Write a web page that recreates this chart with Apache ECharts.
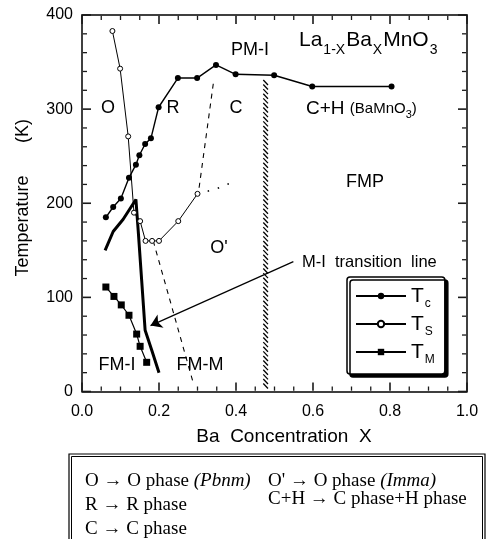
<!DOCTYPE html>
<html><head><meta charset="utf-8">
<script src="https://cdn.jsdelivr.net/npm/echarts@6/dist/echarts.min.js"></script>
<style>html,body{margin:0;padding:0;background:#fff}#c{width:487px;height:539px}</style>
</head><body><div id="c"></div>
<script>
// ---- data ----
const xTicks = [0.0, 0.2, 0.4, 0.6, 0.8, 1.0];
const yTicks = [0, 100, 200, 300, 400];
const xMinorStep = 0.05;
const yMinorStep = 20;
const tcData = [[0.062,185],[0.081,196],[0.101,205],[0.122,227],[0.140,241],[0.149,251],[0.164,263],[0.179,269],[0.199,302],[0.249,333],[0.299,333],[0.348,347],[0.399,337],[0.499,336],[0.598,324],[0.804,324]];
const tsData = [[0.079,383],[0.099,343],[0.120,271],[0.135,190],[0.151,181],[0.165,160],[0.182,160],[0.200,160],[0.250,181],[0.300,210]];
const tsExt = [[0.300,210],[0.347,215],[0.383,221]];
const tmData = [[0.062,111],[0.083,101],[0.102,92],[0.122,81],[0.142,61],[0.151,48],[0.168,31]];
const miLine = [[0.060,150],[0.081,170],[0.107,183],[0.140,204],[0.146,171],[0.155,118],[0.164,65],[0.181,44],[0.200,20]];
const dash1 = [[0.341,327],[0.302,210]];
const dash2 = [[0.185,160],[0.289,9]];
const arrowLine = [[0.549,138],[0.178,70]];
const hatchBand = [0.467, 0.487, 0, 331];
const seriesNames = ['Tc','Ts','TM'];
const subs = {Tc:'c', Ts:'S', TM:'M'};

const SANS = '"Liberation Sans", Arial, sans-serif';
const SERIF = '"Liberation Serif", "Times New Roman", serif';

const xMin = xTicks[0], xMax = xTicks[xTicks.length-1];
const yMin = yTicks[0], yMax = yTicks[yTicks.length-1];

// tick list: [value, axis (0 = x, 1 = y), major?]
const tickItems = [];
for (let i = 0; i <= Math.round((xMax-xMin)/xMinorStep); i++) {
  const v = +(xMin + i*xMinorStep).toFixed(4);
  tickItems.push([v, 0, xTicks.some(t => Math.abs(t - v) < 1e-6) ? 1 : 0]);
}
for (let i = 0; i <= Math.round((yMax-yMin)/yMinorStep); i++) {
  const v = yMin + i*yMinorStep;
  tickItems.push([v, 1, yTicks.indexOf(v) >= 0 ? 1 : 0]);
}

const chart = echarts.init(document.getElementById('c'), null, {renderer:'canvas'});

function axisCommon(showLabel, pos){
  return {
    type:'value', position: pos,
    axisLine:{show:true, onZero:false, lineStyle:{color:'#000', width:1.5}},
    axisTick:{show:false},
    minorTick:{show:false},
    splitLine:{show:false},
    axisLabel:{show:showLabel, color:'#000', fontFamily:SANS, fontSize:16, margin:9}
  };
}
const xa0 = Object.assign(axisCommon(true,'bottom'), {min:xMin, max:xMax, interval:0.2});
xa0.axisLabel.formatter = v => v.toFixed(1);
xa0.axisLabel.margin = 12;
const xa1 = Object.assign(axisCommon(false,'top'), {min:xMin, max:xMax, interval:0.2});
const ya0 = Object.assign(axisCommon(true,'left'), {min:yMin, max:yMax, interval:100});
const ya1 = Object.assign(axisCommon(false,'right'), {min:yMin, max:yMax, interval:100});

const txt = (x,y,text,size,extra) => Object.assign({type:'text', x:x, y:y, z:50,
  style:Object.assign({text:text, fill:'#000', fontFamily:SANS, fontSize:size, align:'center', verticalAlign:'middle'}, extra||{})});

const option = {
  animation:false,
  grid:{left:82, right:20, top:15, bottom:147.5},
  xAxis:[xa0, xa1],
  yAxis:[ya0, ya1],
  legend:{
    orient:'vertical', left:347, top:277, itemWidth:50, itemHeight:8, itemGap:0,
    padding:[5,10,8,8], backgroundColor:'#fff', borderColor:'#000', borderWidth:1.5, borderRadius:3,
    shadowColor:'#000', shadowOffsetX:3, shadowOffsetY:3, shadowBlur:0,
    data:seriesNames,
    formatter: n => '{t|T}{s|' + subs[n] + '}',
    textStyle:{color:'#000', rich:{
      t:{fontFamily:SANS, fontSize:21, color:'#000', lineHeight:22},
      s:{fontFamily:SANS, fontSize:12, color:'#000', padding:[16,0,0,1], lineHeight:12}
    }}
  },
  series:[
    {name:'Tc', type:'line', data:tcData, symbol:'circle', symbolSize:6, z:5,
     lineStyle:{color:'#000', width:1.4}, itemStyle:{color:'#000'}},
    {name:'Ts', type:'line', data:tsData, symbol:'circle', symbolSize:5, z:5,
     lineStyle:{color:'#000', width:1}, itemStyle:{color:'#fff', borderColor:'#000', borderWidth:1}},
    {name:'TM', type:'line', data:tmData, symbol:'rect', symbolSize:7, z:5,
     lineStyle:{color:'#000', width:1.2}, itemStyle:{color:'#000'}},
    {name:'tsExt', type:'line', data:tsExt, symbol:'none', lineStyle:{color:'#000', width:1.5, type:[1.5,9]}},
    {name:'mi', type:'line', data:miLine, symbol:'none', smooth:false, lineStyle:{color:'#000', width:3}},
    {name:'d1', type:'line', data:dash1, symbol:'none', lineStyle:{color:'#000', width:1.1, type:[5,5]}},
    {name:'d2', type:'line', data:dash2, symbol:'none', lineStyle:{color:'#000', width:1.1, type:[5,5]}},
    {name:'arrow', type:'lines', coordinateSystem:'cartesian2d', z:6,
     symbol:['none','arrow'], symbolSize:[0,11],
     lineStyle:{color:'#000', width:1.2, opacity:1},
     data:[{coords:arrowLine}]},
    {name:'hatch', type:'custom', data:[hatchBand], encode:{x:[0,1], y:[2,3]}, z:4,
     renderItem:function(params, api){
       const x0 = api.value(0), x1 = api.value(1), t0 = api.value(2), t1 = api.value(3);
       const tl = api.coord([x0, t1]), br = api.coord([x1, t0]);
       const ch = [];
       for (let y = tl[1]; y < br[1]-4; y += 4.6) {
         ch.push({type:'line', shape:{x1:tl[0]+1.5, y1:y, x2:br[0]-1.5, y2:y+5}, style:{stroke:'#000', lineWidth:1.3}});
       }
       return {type:'group', children:ch};
     }},
    {name:'ticks', type:'custom', data:tickItems, z:7, silent:true, clip:false,
     encode:{x:-1, y:-1},
     renderItem:function(params, api){
       const v = api.value(0), isY = api.value(1) === 1, major = api.value(2) === 1;
       const len = major ? 9 : 5;
       const st = {stroke:'#1a1a1a', lineWidth: major ? 1.6 : 1.3};
       const g = 0.8;
       if (!isY) {
         const b = api.coord([v, yMin]), t = api.coord([v, yMax]);
         return {type:'group', children:[
           {type:'line', shape:{x1:b[0], y1:b[1]-g, x2:b[0], y2:b[1]-len}, style:st},
           {type:'line', shape:{x1:t[0], y1:t[1]+g, x2:t[0], y2:t[1]+len}, style:st}]};
       }
       const l = api.coord([xMin, v]), r = api.coord([xMax, v]);
       return {type:'group', children:[
         {type:'line', shape:{x1:l[0]+g, y1:l[1], x2:l[0]+len, y2:l[1]}, style:st},
         {type:'line', shape:{x1:r[0]-g, y1:r[1], x2:r[0]-len, y2:r[1]}, style:st}]};
     }}
  ],
  graphic:[
    Object.assign(txt(23, 131, '(K)', 18), {rotation:Math.PI/2}),
    Object.assign(txt(23, 226, 'Temperature', 18), {rotation:Math.PI/2}),
    txt(284, 437, 'Ba  Concentration  X', 19),
    txt(108, 108, 'O', 18),
    txt(173, 108, 'R', 18),
    txt(236, 108, 'C', 18),
    txt(250, 50, 'PM-I', 18),
    txt(365, 182, 'FMP', 18),
    txt(219, 248, "O'", 18),
    txt(117, 365, 'FM-I', 18),
    txt(200, 365, 'FM-M', 18),
    txt(302, 262, 'M-I  transition  line', 16.5, {align:'left'}),
    {type:'text', x:299, y:40, z:50, style:{text:'{a|La}{b|1-X}{a|Ba}{b|X}{a|MnO}{b|3}', align:'left', verticalAlign:'middle',
      fill:'#000', fontFamily:SANS, fontSize:21,
      rich:{a:{fontFamily:SANS, fontSize:21, fill:'#000', lineHeight:22},
            b:{fontFamily:SANS, fontSize:14, fill:'#000', padding:[20,1,0,1], lineHeight:22}}}},
    {type:'text', x:306, y:109, z:50, style:{text:'{a|C+H }{c|(BaMnO}{d|3}{c|)}', align:'left', verticalAlign:'middle',
      fill:'#000', fontFamily:SANS, fontSize:19,
      rich:{a:{fontFamily:SANS, fontSize:19, fill:'#000', lineHeight:20},
            c:{fontFamily:SANS, fontSize:15, fill:'#000', lineHeight:20},
            d:{fontFamily:SANS, fontSize:11, fill:'#000', padding:[12,0,0,0], lineHeight:20}}}},
    {type:'rect', shape:{x:69, y:454, width:416, height:120}, style:{fill:'none', stroke:'#000', lineWidth:1.2}},
    {type:'rect', shape:{x:71.5, y:456.5, width:411, height:120}, style:{fill:'none', stroke:'#000', lineWidth:1}},
    {type:'text', x:85, y:481, style:{text:'O → O phase {i|(Pbnm)}', fill:'#000', fontFamily:SERIF, fontSize:19, align:'left', verticalAlign:'middle',
      rich:{i:{fontFamily:SERIF, fontSize:19, fontStyle:'italic', fill:'#000'}}}},
    {type:'text', x:85, y:505, style:{text:'R → R phase', fill:'#000', fontFamily:SERIF, fontSize:19, align:'left', verticalAlign:'middle'}},
    {type:'text', x:85, y:529, style:{text:'C → C phase', fill:'#000', fontFamily:SERIF, fontSize:19, align:'left', verticalAlign:'middle'}},
    {type:'text', x:268, y:481, style:{text:"O' → O phase {i|(Imma)}", fill:'#000', fontFamily:SERIF, fontSize:19, align:'left', verticalAlign:'middle',
      rich:{i:{fontFamily:SERIF, fontSize:19, fontStyle:'italic', fill:'#000'}}}},
    {type:'text', x:268, y:499, style:{text:'C+H → C phase+H phase', fill:'#000', fontFamily:SERIF, fontSize:19, align:'left', verticalAlign:'middle'}}
  ]
};
chart.setOption(option);
</script>
</body></html>
